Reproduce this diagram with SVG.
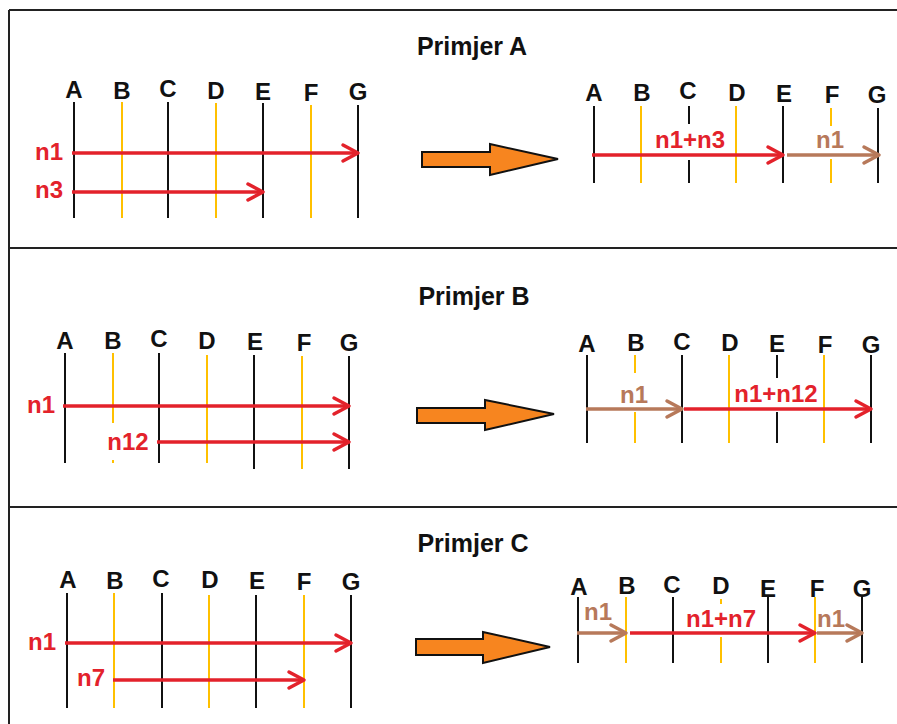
<svg xmlns="http://www.w3.org/2000/svg" width="897" height="724" viewBox="0 0 897 724">
<style>
text{font-family:"Liberation Sans",Arial,sans-serif;font-weight:bold}
.t{font-size:25px;fill:#111;text-anchor:middle}
.l{font-size:24px;fill:#111;text-anchor:middle}
.r{font-size:24px;fill:#e3222b;text-anchor:middle}
.b{font-size:24px;fill:#b7795a;text-anchor:middle}
.k{stroke:#111;stroke-width:2;fill:none}
.y{stroke:#ffc000;stroke-width:2;fill:none}
.ar{stroke:#e3222b;stroke-width:3.5;fill:none;marker-end:url(#hr)}
.ab{stroke:#b7795a;stroke-width:3.5;fill:none;marker-end:url(#hb)}
.big{fill:#f7851f;stroke:#111;stroke-width:2;stroke-linejoin:miter}
.frame{stroke:#222;stroke-width:2;fill:none}
</style>
<defs>
<marker id="hr" markerUnits="userSpaceOnUse" viewBox="-18 -10 20 20" refX="0" refY="0" markerWidth="20" markerHeight="20" orient="auto" overflow="visible">
<path d="M-15,-8 L0,0 L-15,8" fill="none" stroke="#e3222b" stroke-width="3.5" stroke-linecap="round" stroke-linejoin="round"/>
</marker>
<marker id="hb" markerUnits="userSpaceOnUse" viewBox="-18 -10 20 20" refX="0" refY="0" markerWidth="20" markerHeight="20" orient="auto" overflow="visible">
<path d="M-15,-8 L0,0 L-15,8" fill="none" stroke="#b7795a" stroke-width="3.5" stroke-linecap="round" stroke-linejoin="round"/>
</marker>
</defs>
<rect width="897" height="724" fill="#fff"/>
<g id="frame" class="frame">
<path d="M9,10 H897 M9,10 V724 M9,248 H897 M9,507 H897"/>
</g>

<!-- Panel A -->
<g id="panelA">
<text class="t" x="472" y="55">Primjer A</text>
<g id="A-left">
<path class="k" d="M74,102V218 M168,102V218 M263,103V218 M358,105V218"/>
<path class="y" d="M122,102V218 M216,103V218 M311,105V218"/>
<text class="l" x="74" y="98">A</text><text class="l" x="122" y="99">B</text><text class="l" x="168" y="97">C</text><text class="l" x="216" y="99">D</text><text class="l" x="263" y="100">E</text><text class="l" x="311" y="101">F</text><text class="l" x="358" y="100">G</text>
<text class="r" x="49" y="160">n1</text>
<text class="r" x="49" y="198">n3</text>
</g>
<polygon id="A-bigarrow" class="big" points="422,152 490,152 490,144 558,159 490,175 490,167 422,167"/>
<g id="A-right">
<path class="k" d="M594,106V183 M689,106V124 M689,160V183 M783,106V183 M878,108V183"/>
<path class="y" d="M641,106V183 M736,106V183 M831,108V126 M831,159V183"/>
<text class="l" x="594" y="101">A</text><text class="l" x="642" y="101">B</text><text class="l" x="688" y="99">C</text><text class="l" x="737" y="101">D</text><text class="l" x="784" y="102">E</text><text class="l" x="832" y="103">F</text><text class="l" x="877" y="103">G</text>
<text class="r" x="690" y="148">n1+n3</text>
<text class="b" x="830" y="148">n1</text>
</g>
</g>

<!-- Panel B -->
<g id="panelB">
<text class="t" x="474" y="305">Primjer B</text>
<g id="B-left">
<path class="k" d="M65,353V463 M159,353V463 M254,355V469 M349,356V469"/>
<path class="y" d="M113,353V423 M113,460V463 M207,355V463 M302,356V469"/>
<text class="l" x="65" y="349">A</text><text class="l" x="113" y="349">B</text><text class="l" x="159" y="347">C</text><text class="l" x="207" y="349">D</text><text class="l" x="255" y="350">E</text><text class="l" x="304" y="351">F</text><text class="l" x="349" y="351">G</text>
<text class="r" x="41" y="413">n1</text>
<text class="r" x="128" y="450">n12</text>
</g>
<polygon id="B-bigarrow" class="big" points="417,408 485,408 485,400 554,414 485,430 485,423 417,423"/>
<g id="B-right">
<path class="k" d="M587,355V443 M682,355V443 M777,355V378 M777,412V443 M871,355V443"/>
<path class="y" d="M635,355V373 M635,412V443 M729,355V443 M824,355V443"/>
<text class="l" x="587" y="352">A</text><text class="l" x="636" y="351">B</text><text class="l" x="682" y="350">C</text><text class="l" x="730" y="351">D</text><text class="l" x="777" y="352">E</text><text class="l" x="825" y="353">F</text><text class="l" x="871" y="353">G</text>
<text class="b" x="634" y="403">n1</text>
<text class="r" x="776" y="402">n1+n12</text>
</g>
</g>

<!-- Panel C -->
<g id="panelC">
<text class="t" x="473" y="552">Primjer C</text>
<g id="C-left">
<path class="k" d="M67,593V708 M162,593V708 M256,595V708 M351,595V708"/>
<path class="y" d="M114,593V708 M209,595V708 M304,595V708"/>
<text class="l" x="68" y="588">A</text><text class="l" x="115" y="589">B</text><text class="l" x="161" y="587">C</text><text class="l" x="210" y="588">D</text><text class="l" x="257" y="589">E</text><text class="l" x="304" y="590">F</text><text class="l" x="351" y="590">G</text>
<text class="r" x="42" y="650">n1</text>
<text class="r" x="91" y="686">n7</text>
</g>
<polygon id="C-bigarrow" class="big" points="416,639 483,639 483,632 550,647 483,663 483,655 416,655"/>
<g id="C-right">
<path class="k" d="M578,597V663 M673,597V663 M768,597V663 M862,597V663"/>
<path class="y" d="M626,597V663 M721,599V604 M721,637V663 M815,597V663"/>
<text class="l" x="579" y="595">A</text><text class="l" x="627" y="594">B</text><text class="l" x="672" y="593">C</text><text class="l" x="721" y="594">D</text><text class="l" x="768" y="597">E</text><text class="l" x="817" y="597">F</text><text class="l" x="862" y="597">G</text>
<text class="b" x="598" y="620">n1</text>
<text class="r" x="721" y="627">n1+n7</text>
<text class="b" x="831" y="627">n1</text>
</g>
</g>

<g id="connectors">
<path class="ar" d="M72,153H358"/>
<path class="ar" d="M72,192H263"/>
<path class="ar" d="M592,155H783"/>
<path class="ab" d="M787,155H879"/>
<path class="ar" d="M63,406H349"/>
<path class="ar" d="M157,442H349"/>
<path class="ab" d="M586,409H682"/>
<path class="ar" d="M684,409H871"/>
<path class="ar" d="M65,643H351"/>
<path class="ar" d="M113,680H304"/>
<path class="ab" d="M577,633H626"/>
<path class="ar" d="M630,633H815"/>
<path class="ab" d="M817,633H862"/>
</g>
</svg>
